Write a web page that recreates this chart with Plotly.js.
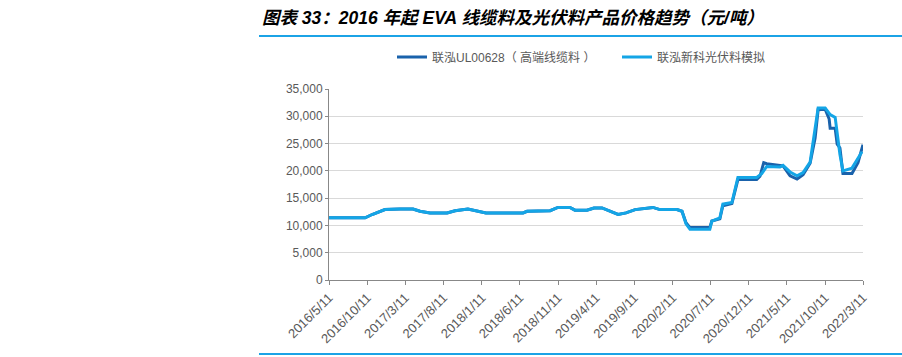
<!DOCTYPE html>
<html>
<head>
<meta charset="utf-8">
<script src="https://cdn.plot.ly/plotly-3.0.1.min.js"></script>
<style>html,body{margin:0;padding:0;background:#fff;}#chart{width:902px;height:357px;}</style>
</head>
<body>
<div id="chart"></div>
<script>
// 联泓UL00628（高端线缆料）
const datesUL = ['2016-05-11','2016-10-02','2016-10-30','2016-12-20','2017-02-18','2017-04-11','2017-05-09','2017-06-18','2017-08-25','2017-09-26','2017-11-16','2018-01-03','2018-01-27','2018-06-24','2018-07-10','2018-10-10','2018-11-10','2018-12-28','2019-01-17','2019-03-06','2019-04-03','2019-05-05','2019-06-06','2019-07-08','2019-08-09','2019-09-14','2019-11-24','2019-12-22','2020-02-28','2020-03-19','2020-04-04','2020-04-20','2020-07-08','2020-07-16','2020-08-17','2020-08-29','2020-10-04','2020-10-16','2020-10-28','2021-01-11','2021-01-24','2021-02-08','2021-02-20','2021-04-14','2021-04-26','2021-05-24','2021-06-21','2021-07-15','2021-08-12','2021-09-01','2021-09-13','2021-10-11','2021-10-27','2021-10-31','2021-11-20','2021-11-28','2021-12-09','2021-12-21','2022-01-26','2022-02-19','2022-03-11'];
const valuesUL = [11400,11400,12000,12900,13000,13000,12600,12300,12300,12700,13000,12500,12300,12300,12600,12700,13300,13300,12800,12800,13200,13200,12600,12000,12300,12900,13300,12900,12900,12600,10500,9600,9600,10800,11200,13600,14000,16500,18400,18400,19000,21500,21300,21000,20900,19100,18500,19300,21400,26000,31200,31300,29500,27800,27800,24900,24200,19500,19500,21500,24800];

// 联泓新科光伏料模拟
const datesPV = ['2016-05-11','2016-10-02','2016-10-30','2016-12-20','2017-02-18','2017-04-11','2017-05-09','2017-06-18','2017-08-25','2017-09-26','2017-11-16','2018-01-03','2018-01-27','2018-06-24','2018-07-10','2018-10-10','2018-11-10','2018-12-28','2019-01-17','2019-03-06','2019-04-03','2019-05-05','2019-06-06','2019-07-08','2019-08-09','2019-09-14','2019-11-24','2019-12-22','2020-02-28','2020-03-19','2020-04-04','2020-04-20','2020-07-08','2020-07-16','2020-08-17','2020-08-29','2020-10-04','2020-10-16','2020-10-28','2021-01-11','2021-01-31','2021-02-20','2021-04-14','2021-04-26','2021-05-24','2021-06-21','2021-07-15','2021-08-12','2021-09-01','2021-09-13','2021-10-11','2021-10-31','2021-11-20','2021-12-09','2021-12-21','2022-01-26','2022-02-19','2022-03-07'];
const valuesPV = [11400,11400,12000,12900,13000,13000,12600,12300,12300,12700,13000,12500,12300,12300,12600,12700,13300,13300,12800,12800,13200,13200,12600,12000,12300,12900,13300,12900,12900,12600,10300,9300,9300,10800,11400,13900,14200,16700,18800,18800,19500,20800,20700,21000,19800,19100,19700,21600,27800,31500,31500,30300,29800,23000,20000,20500,22300,23500];

const tickDates = ['2016-05-11','2016-10-11','2017-03-11','2017-08-11','2018-01-11','2018-06-11','2018-11-11','2019-04-11','2019-09-11','2020-02-11','2020-07-11','2020-12-11','2021-05-11','2021-10-11','2022-03-11'];
const tickLabels = ['2016/5/11','2016/10/11','2017/3/11','2017/8/11','2018/1/11','2018/6/11','2018/11/11','2019/4/11','2019/9/11','2020/2/11','2020/7/11','2020/12/11','2021/5/11','2021/10/11','2022/3/11'];

const seriesNames = ['联泓UL00628（ 高端线缆料 ）','联泓新科光伏料模拟'];

const traces = [
  {x: datesUL, y: valuesUL, name: seriesNames[0], type: 'scatter', mode: 'lines',
   line: {color: '#1a62ab', width: 3}},
  {x: datesPV, y: valuesPV, name: seriesNames[1], type: 'scatter', mode: 'lines',
   line: {color: '#14a5e6', width: 3}}
];

const plotL = 329, plotR = 863, plotT = 89, plotB = 280, W = 902, H = 357;
const px = v => (v - plotL) / (plotR - plotL);
const py = v => (plotB - v) / (plotB - plotT);

const layout = {
  width: W, height: H,
  margin: {l: plotL, r: W - plotR, t: plotT, b: H - plotB, pad: 0},
  paper_bgcolor: '#fff', plot_bgcolor: '#fff',
  font: {family: 'Liberation Sans, Arial, "Noto Sans CJK SC", sans-serif', size: 12, color: '#595959'},
  title: {
    text: '<b><i>图表 33：2016 年起 EVA 线缆料及光伏料产品价格趋势（元/吨）</i></b>',
    font: {family: 'Liberation Sans, "Noto Sans CJK SC", sans-serif', size: 17.5, color: '#000'},
    xref: 'container', x: 262 / W, xanchor: 'left',
    yref: 'container', y: 1 - 18 / H, yanchor: 'middle'
  },
  showlegend: true,
  legend: {
    orientation: 'h', x: px(392), xanchor: 'left', y: py(57), yanchor: 'middle',
    font: {family: 'Liberation Sans, "Noto Sans CJK SC", sans-serif', size: 12, color: '#595959'},
    entrywidth: 180, entrywidthmode: 'pixels',
    bgcolor: 'rgba(0,0,0,0)', itemwidth: 30
  },
  xaxis: {
    type: 'date', range: ['2016-05-11', '2022-03-11'],
    tickmode: 'array', tickvals: tickDates, ticktext: tickLabels,
    tickangle: -45, ticks: 'outside', ticklen: 4, tickcolor: '#888',
    showgrid: false, showline: true, linecolor: '#888', linewidth: 1,
    zeroline: false, tickfont: {size: 13, color: '#595959'}
  },
  yaxis: {
    range: [0, 35000], dtick: 5000, tick0: 0, tickformat: ',d',
    showgrid: true, gridcolor: '#d9d9d9', gridwidth: 1,
    showline: true, linecolor: '#888', linewidth: 1,
    ticks: 'outside', ticklen: 3, tickcolor: '#888',
    zeroline: false, tickfont: {size: 12, color: '#595959'}
  },
  shapes: [
    {type: 'line', xref: 'paper', yref: 'paper', x0: px(259), x1: px(902), y0: py(36), y1: py(36),
     line: {color: '#1ba3e6', width: 2}},
    {type: 'line', xref: 'paper', yref: 'paper', x0: px(259), x1: px(902), y0: py(354), y1: py(354),
     line: {color: '#1ba3e6', width: 2}}
  ]
};

Plotly.newPlot('chart', traces, layout, {displayModeBar: false, staticPlot: true});
</script>
</body>
</html>
